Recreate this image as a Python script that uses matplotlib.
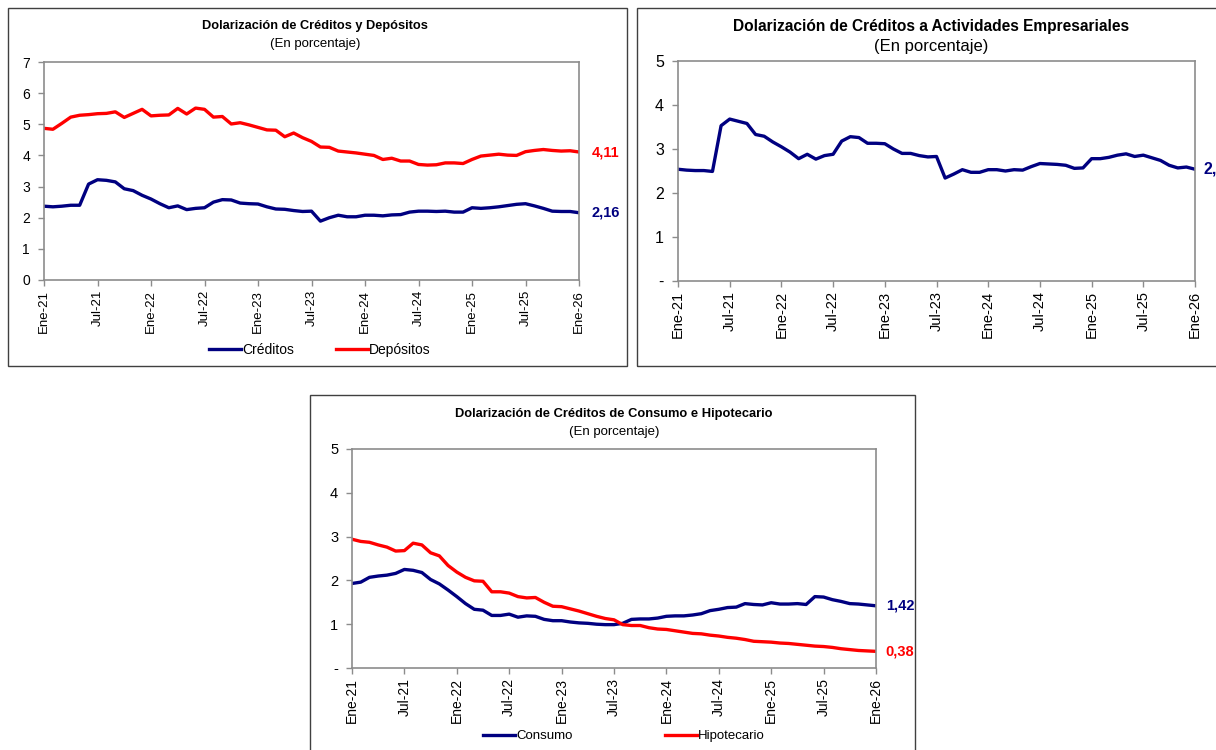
import numpy as np
import matplotlib.pyplot as plt
from matplotlib.patches import Rectangle

plt.rcParams['font.family'] = ['Liberation Sans Narrow', 'Liberation Sans', 'DejaVu Sans']

# Monthly series Ene-21 .. Ene-26 (61 observations)
tick_labels = ["Ene-21", "Jul-21", "Ene-22", "Jul-22", "Ene-23", "Jul-23",
               "Ene-24", "Jul-24", "Ene-25", "Jul-25", "Ene-26"]

creditos = [2.37, 2.35, 2.37, 2.40, 2.40, 3.08, 3.22, 3.20, 3.15, 2.93,
            2.87, 2.72, 2.60, 2.45, 2.32, 2.38, 2.26, 2.30, 2.32, 2.50,
            2.58, 2.57, 2.47, 2.45, 2.44, 2.35, 2.28, 2.27, 2.23, 2.20,
            2.21, 1.89, 2.00, 2.08, 2.03, 2.03, 2.08, 2.08, 2.06, 2.09,
            2.10, 2.18, 2.21, 2.21, 2.20, 2.21, 2.18, 2.18, 2.32, 2.30,
            2.32, 2.35, 2.39, 2.43, 2.45, 2.38, 2.30, 2.21, 2.20, 2.20,
            2.16]

depositos = [4.87, 4.84, 5.03, 5.23, 5.29, 5.31, 5.34, 5.35, 5.40, 5.22,
             5.35, 5.48, 5.27, 5.29, 5.30, 5.51, 5.33, 5.52, 5.48, 5.23,
             5.25, 5.01, 5.05, 4.98, 4.90, 4.82, 4.81, 4.60, 4.72, 4.57,
             4.45, 4.27, 4.26, 4.14, 4.11, 4.08, 4.04, 4.00, 3.87, 3.91,
             3.82, 3.82, 3.71, 3.69, 3.70, 3.76, 3.76, 3.74, 3.87, 3.98,
             4.01, 4.04, 4.01, 4.00, 4.12, 4.16, 4.19, 4.16, 4.14, 4.15,
             4.11]

empresariales = [2.54, 2.52, 2.51, 2.51, 2.49, 3.53, 3.68, 3.63, 3.58, 3.33,
                 3.29, 3.16, 3.05, 2.93, 2.78, 2.88, 2.77, 2.85, 2.88, 3.18,
                 3.28, 3.26, 3.13, 3.13, 3.12, 3.00, 2.90, 2.90, 2.85, 2.82,
                 2.83, 2.34, 2.43, 2.53, 2.47, 2.47, 2.53, 2.53, 2.50, 2.53,
                 2.52, 2.60, 2.67, 2.66, 2.65, 2.63, 2.56, 2.57, 2.78, 2.78,
                 2.81, 2.86, 2.89, 2.83, 2.86, 2.80, 2.74, 2.63, 2.57, 2.59,
                 2.54]

consumo = [1.93, 1.96, 2.07, 2.10, 2.12, 2.16, 2.25, 2.23, 2.18, 2.02,
           1.92, 1.78, 1.63, 1.47, 1.34, 1.32, 1.20, 1.20, 1.23, 1.16,
           1.19, 1.18, 1.11, 1.08, 1.08, 1.05, 1.03, 1.02, 1.00, 0.99,
           0.99, 1.02, 1.11, 1.12, 1.12, 1.14, 1.18, 1.19, 1.19, 1.21,
           1.24, 1.31, 1.34, 1.38, 1.39, 1.47, 1.45, 1.44, 1.49, 1.46,
           1.46, 1.47, 1.45, 1.63, 1.62, 1.56, 1.52, 1.47, 1.46, 1.44,
           1.42]

hipotecario = [2.94, 2.89, 2.87, 2.81, 2.76, 2.67, 2.68, 2.85, 2.81, 2.63,
               2.56, 2.34, 2.19, 2.07, 1.99, 1.98, 1.74, 1.74, 1.71, 1.63,
               1.60, 1.61, 1.50, 1.41, 1.40, 1.35, 1.30, 1.24, 1.18, 1.13,
               1.10, 0.99, 0.97, 0.97, 0.92, 0.89, 0.88, 0.85, 0.82, 0.79,
               0.78, 0.75, 0.73, 0.70, 0.68, 0.65, 0.61, 0.60, 0.59, 0.57,
               0.56, 0.54, 0.52, 0.50, 0.49, 0.47, 0.44, 0.42, 0.40, 0.39,
               0.38]

NAVY = "#000080"
RED = "#FF0000"
GRAY = "#8c8c8c"

W, H = 1216, 750
fig = plt.figure(figsize=(W / 100, H / 100), dpi=100)


def px_axes(x0, y0, x1, y1):
    # pixel box (top-left origin) -> figure axes
    return fig.add_axes([x0 / W, 1 - y1 / H, (x1 - x0) / W, (y1 - y0) / H])


def panel_box(x0, y0, x1, y1):
    fig.patches.append(Rectangle((x0 / W, 1 - y1 / H), (x1 - x0) / W, (y1 - y0) / H,
                                 transform=fig.transFigure, fill=False,
                                 ec="#404040", lw=1.0))


def style_axes(ax, ymax, zero_label, xfs, yfs):
    n = len(creditos)
    x = np.arange(n)
    ax.set_xlim(0, n - 1)
    ax.set_ylim(0, ymax)
    ax.set_xticks(x[::6])
    ax.set_xticklabels(tick_labels, rotation=90, fontsize=xfs)
    yt = np.arange(0, ymax + 1)
    ax.set_yticks(yt)
    ax.set_yticklabels([zero_label] + [str(v) for v in yt[1:]], fontsize=yfs)
    for s in ax.spines.values():
        s.set_color(GRAY)
        s.set_linewidth(1.2)
    ax.tick_params(axis="both", direction="out", length=4, width=1, color=GRAY, pad=3)
    ax.tick_params(axis="y", pad=6)
    return x


def end_label(ax, x, y, color, fs, off):
    ax.annotate(f"{y[-1]:.2f}".replace(".", ","), xy=(x[-1], y[-1]), xytext=(off, 0),
                textcoords="offset points", color=color, fontsize=fs,
                fontweight="bold", va="center", ha="left", annotation_clip=False)


# Panel 1: Créditos y Depósitos
panel_box(8, 8, 627, 366)
ax1 = px_axes(44, 62, 579, 280)
x = style_axes(ax1, 7, "0", 9.5, 10)
ax1.plot(x, creditos, color=NAVY, lw=2.4, label="Créditos")
ax1.plot(x, depositos, color=RED, lw=2.4, label="Depósitos")
end_label(ax1, x, creditos, NAVY, 10.5, 9)
end_label(ax1, x, depositos, RED, 10.5, 9)
fig.text(315 / W, 1 - 26 / H, "Dolarización de Créditos y Depósitos", ha="center",
         va="center", fontsize=9.2, fontweight="bold")
fig.text(315 / W, 1 - 44 / H, "(En porcentaje)", ha="center", va="center", fontsize=9.5)
fig.legend(handles=ax1.get_lines(), loc="center", bbox_to_anchor=(320 / W, 1 - 350 / H),
           ncol=2, frameon=False, fontsize=10, handlelength=2.3, handletextpad=0.1,
           columnspacing=3.0)

# Panel 2: Actividades Empresariales
panel_box(637, 8, 1240, 366)
ax2 = px_axes(678, 61, 1195, 281)
x = style_axes(ax2, 5, "-", 10.5, 11.5)
ax2.plot(x, empresariales, color=NAVY, lw=2.4)
end_label(ax2, x, empresariales, NAVY, 11.5, 6)
fig.text(931 / W, 1 - 26 / H, "Dolarización de Créditos a Actividades Empresariales",
         ha="center", va="center", fontsize=11.2, fontweight="bold")
fig.text(931 / W, 1 - 46 / H, "(En porcentaje)", ha="center", va="center", fontsize=12)

# Panel 3: Consumo e Hipotecario
panel_box(310, 395, 915, 770)
ax3 = px_axes(352, 449, 876, 668)
x = style_axes(ax3, 5, "-", 10, 10.5)
ax3.plot(x, consumo, color=NAVY, lw=2.4, label="Consumo")
ax3.plot(x, hipotecario, color=RED, lw=2.4, label="Hipotecario")
end_label(ax3, x, consumo, NAVY, 10.5, 7)
end_label(ax3, x, hipotecario, RED, 10.5, 7)
fig.text(614 / W, 1 - 414 / H, "Dolarización de Créditos de Consumo e Hipotecario",
         ha="center", va="center", fontsize=9.3, fontweight="bold")
fig.text(614 / W, 1 - 432 / H, "(En porcentaje)", ha="center", va="center", fontsize=9.5)
fig.legend(handles=ax3.get_lines(), loc="center", bbox_to_anchor=(624 / W, 1 - 736 / H),
           ncol=2, frameon=False, fontsize=9.5, handlelength=2.4, handletextpad=0.1,
           columnspacing=7.0)

fig.savefig("out.png", dpi=100)
